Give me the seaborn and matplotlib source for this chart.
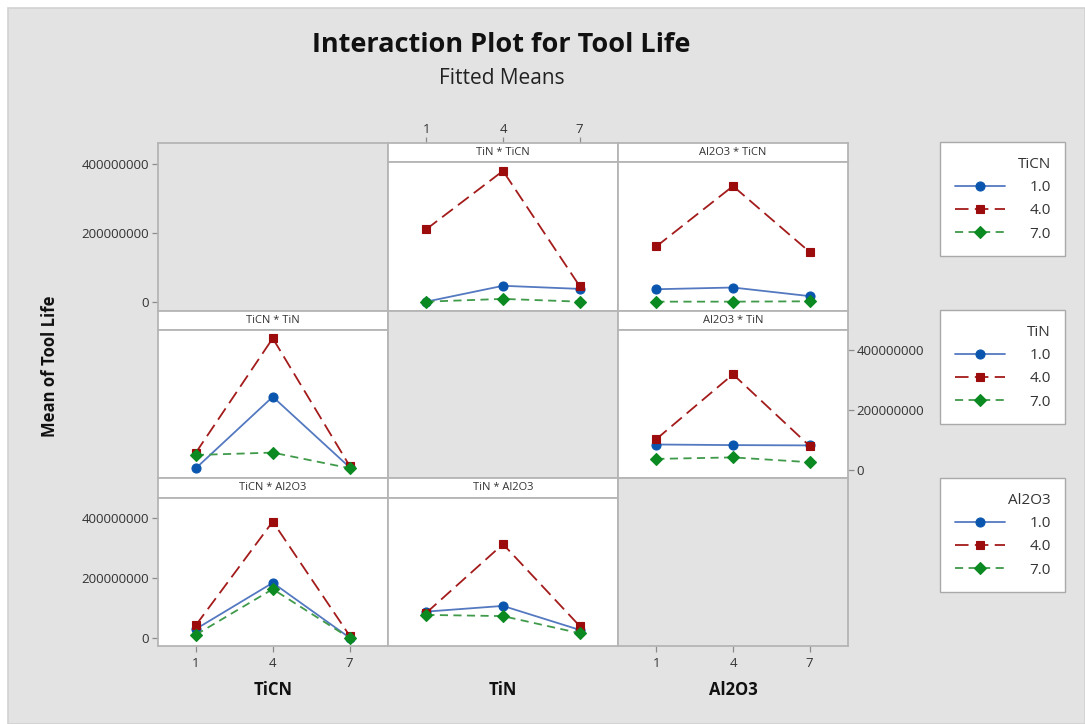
import numpy as np
import pandas as pd
import matplotlib
matplotlib.use("Agg")
import matplotlib.pyplot as plt
from matplotlib.patches import Rectangle
import seaborn as sns

# ---------------- data ----------------
factors = ["TiCN", "TiN", "Al2O3"]
x_levels = [1, 4, 7]
group_levels = ["1.0", "4.0", "7.0"]
y_ticks = [0, 200000000, 400000000]

# Fitted means of Tool Life.  Outer list = level of the line (legend) factor 1/4/7,
# inner list = level of the x-axis factor 1/4/7.
TiN_by_TiCN = [[1e6, 47e6, 38e6], [211e6, 380e6, 46e6], [1e6, 9e6, 1e6]]
Al2O3_by_TiCN = [[37e6, 42e6, 17e6], [161e6, 336e6, 145e6], [1e6, 1e6, 2e6]]
TiCN_by_TiN = [[6e6, 244e6, 9e6], [58e6, 439e6, 14e6], [50e6, 58e6, 6e6]]
Al2O3_by_TiN = [[85e6, 83e6, 82e6], [103e6, 319e6, 80e6], [37e6, 42e6, 26e6]]
TiCN_by_Al2O3 = [[30e6, 184e6, 1e6], [43e6, 388e6, 8e6], [11e6, 163e6, 0]]
TiN_by_Al2O3 = [[88e6, 107e6, 27e6], [84e6, 313e6, 40e6], [77e6, 73e6, 16e6]]

panels = {
    (0, 1): ("TiN * TiCN", TiN_by_TiCN),
    (0, 2): ("Al2O3 * TiCN", Al2O3_by_TiCN),
    (1, 0): ("TiCN * TiN", TiCN_by_TiN),
    (1, 2): ("Al2O3 * TiN", Al2O3_by_TiN),
    (2, 0): ("TiCN * Al2O3", TiCN_by_Al2O3),
    (2, 1): ("TiN * Al2O3", TiN_by_Al2O3),
}

records = []
for (r, c), (title, arr) in panels.items():
    for gi, g in enumerate(group_levels):
        for xi, xv in enumerate(x_levels):
            records.append(dict(row=r, col=c, group=g, x=xv, mean=arr[gi][xi]))
df = pd.DataFrame(records)

# ---------------- style ----------------
sns.set_theme(style="white")
plt.rcParams["font.family"] = ["Open Sans", "DejaVu Sans"]

BG = "#e3e3e3"
SPINE = "#b5b5b5"
TXT = "#333333"

line_colors = {"1.0": "#5479c0", "4.0": "#a31b1b", "7.0": "#3f9a4a"}
marker_colors = {"1.0": "#0a56ae", "4.0": "#9c0c0c", "7.0": "#0b8a22"}
markers = {"1.0": "o", "4.0": "s", "7.0": "D"}
marker_sizes = {"1.0": 6.5, "4.0": 5.5, "7.0": 6.0}
dashes = {"1.0": "", "4.0": (7.5, 3.5), "7.0": (4.5, 3.0)}

W, H = 1085, 724
fig = plt.figure(figsize=(W / 100, H / 100), dpi=100)
fig.patch.set_facecolor("white")
fig.add_artist(Rectangle((8 / W, 0), 1 - 8 / W, 1 - 8 / H, transform=fig.transFigure,
                         facecolor=BG, edgecolor="#d2d2d2", lw=1.2, zorder=-10))


def px_axes(x0, y0, x1, y1):
    return fig.add_axes([x0 / W, 1 - y1 / H, (x1 - x0) / W, (y1 - y0) / H])


col_edges = [157.5, 388, 618, 848]
row_top = [143, 311, 478]
strip_bot = [162, 330, 498]
row_bot = [311, 478, 646]
zero_px = [302, 470, 638]
px_per_tick = [69, 60, 60]
XLIM = (-0.5, 8.5)


def ylim_for(r, top_px, bot_px):
    return ((zero_px[r] - bot_px) / px_per_tick[r] * 2e8,
            (zero_px[r] - top_px) / px_per_tick[r] * 2e8)


def style_spines(ax, lw=1.3):
    for s in ax.spines.values():
        s.set_visible(True)
        s.set_color(SPINE)
        s.set_linewidth(lw)


def tickstyle(ax, axis):
    ax.tick_params(axis=axis, which="both", length=4, width=0.9, color="#8c8c8c",
                   labelsize=9.5, labelcolor=TXT, pad=2)


ytick_labels = [str(v) for v in y_ticks]
main_axes = {}
strip_axes = {}
for r in range(3):
    for c in range(3):
        x0, x1 = col_edges[c], col_edges[c + 1]
        if r == c:
            ax = px_axes(x0, row_top[r], x1, row_bot[r])
            ax.set_facecolor(BG)
            ax.set_xlim(XLIM)
            ax.set_ylim(ylim_for(r, row_top[r], row_bot[r]))
            style_spines(ax)
            ax.set_xticks([])
            ax.set_yticks([])
            main_axes[(r, c)] = ax
            continue
        title, _ = panels[(r, c)]
        sax = px_axes(x0, row_top[r], x1, strip_bot[r])
        sax.set_facecolor("white")
        sax.set_xlim(XLIM)
        sax.set_ylim(0, 1)
        sax.set_xticks([])
        sax.set_yticks([])
        style_spines(sax)
        sax.text(0.5, 0.5, title, transform=sax.transAxes, ha="center", va="center",
                 fontsize=8, color=TXT)
        strip_axes[(r, c)] = sax

        ax = px_axes(x0, strip_bot[r], x1, row_bot[r])
        ax.set_facecolor("white")
        sub = df[(df.row == r) & (df.col == c)]
        sns.lineplot(data=sub, x="x", y="mean", hue="group", style="group",
                     hue_order=group_levels, style_order=group_levels,
                     palette=line_colors, markers=markers, dashes=dashes,
                     estimator=None, errorbar=None, lw=1.3, ax=ax, legend=False)
        for g, ln in zip(group_levels, ax.lines[:3]):
            ln.set_markersize(marker_sizes[g])
            ln.set_markerfacecolor(marker_colors[g])
            ln.set_markeredgecolor(marker_colors[g])
            ln.set_markeredgewidth(0.8)
        ax.set_xlim(XLIM)
        ax.set_ylim(ylim_for(r, strip_bot[r], row_bot[r]))
        ax.set_xticks([])
        ax.set_yticks([])
        ax.set_xlabel("")
        ax.set_ylabel("")
        style_spines(ax)
        main_axes[(r, c)] = ax

# y ticks
for (r, c, side) in [(0, 0, "left"), (2, 0, "left"), (1, 2, "right")]:
    ax = main_axes[(r, c)]
    ax.set_yticks(y_ticks)
    ax.set_yticklabels(ytick_labels)
    if side == "right":
        ax.yaxis.tick_right()
    else:
        ax.yaxis.tick_left()
    tickstyle(ax, "y")

# x ticks
for (r, c) in [(2, 0), (2, 2)]:
    ax = main_axes[(r, c)]
    ax.set_xticks(x_levels)
    ax.set_xticklabels([str(v) for v in x_levels])
    ax.xaxis.tick_bottom()
    tickstyle(ax, "x")
    ax.tick_params(axis="x", pad=4)
sax = strip_axes[(0, 1)]
sax.set_xticks(x_levels)
sax.set_xticklabels([str(v) for v in x_levels])
sax.xaxis.tick_top()
tickstyle(sax, "x")
sax.tick_params(axis="x", pad=1)

# axis labels and titles
for c, name in enumerate(factors):
    cx = (col_edges[c] + col_edges[c + 1]) / 2
    fig.text(cx / W, 1 - 690 / H, name, ha="center", va="center", fontsize=12,
             fontweight="bold", color="#111")
fig.text(50 / W, 1 - 366 / H, "Mean of Tool Life", rotation=90, ha="center", va="center",
         fontsize=12, fontweight="bold", color="#111")
fig.text(501 / W, 1 - 45 / H, "Interaction Plot for Tool Life", ha="center", va="center",
         fontsize=19.5, fontweight="bold", color="#111")
fig.text(502 / W, 1 - 78 / H, "Fitted Means", ha="center", va="center",
         fontsize=15, color="#222")

# legends, one per row
legend_tops = [142, 310, 478]
first_panel = {0: (0, 1), 1: (1, 0), 2: (2, 0)}
for r in range(3):
    ax = main_axes[first_panel[r]]
    leg = fig.legend(handles=ax.lines[:3], labels=group_levels, title=factors[r],
                     loc="upper left", bbox_to_anchor=(940 / W, 1 - legend_tops[r] / H),
                     bbox_transform=fig.transFigure, frameon=True, fancybox=False,
                     edgecolor="#a9a9a9", facecolor="white", framealpha=1,
                     fontsize=11, title_fontsize=11, handlelength=3.3,
                     handletextpad=1.6, labelspacing=0.55, borderpad=0.95,
                     alignment="right", numpoints=1, borderaxespad=0)
    leg.get_frame().set_linewidth(1.0)
    for t in leg.get_texts():
        t.set_color(TXT)
    leg.get_title().set_color(TXT)

fig.savefig("out.png", dpi=100, facecolor=fig.get_facecolor())
